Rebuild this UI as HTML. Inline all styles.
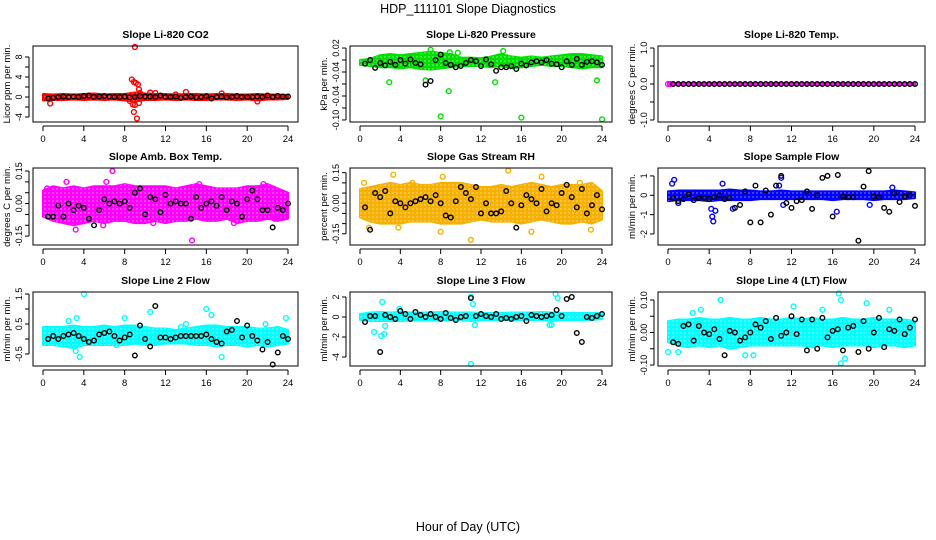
<!DOCTYPE html>
<html><head><meta charset="utf-8">
<style>
html,body{margin:0;padding:0;background:#fff;}
svg{display:block;font-family:"Liberation Sans",Arial,sans-serif;}
</style></head>
<body>
<svg id="chart" width="936" height="540" viewBox="0 0 936 540">
<defs>
<pattern id="speck" width="4" height="4" patternUnits="userSpaceOnUse"><rect width="4" height="4" fill="#fff" opacity="0"/><circle cx="1" cy="1" r="0.7" fill="#fff"/></pattern>
</defs>
<text x="468" y="13" text-anchor="middle" font-size="12.5">HDP_111101  Slope Diagnostics</text>
<text x="468" y="531" text-anchor="middle" font-size="12.5">Hour of Day (UTC)</text>
</svg>
<script>
const blackHours=[0.5,1,1.5,2,2.5,3,3.5,4,4.5,5,5.5,6,6.5,7,7.5,8,8.5,9,9.5,10,10.5,11,11.5,12,12.5,13,13.5,14,14.5,15,15.5,16,16.5,17,17.5,18,18.5,19,19.5,20,20.5,21,21.5,22,22.5,23,23.5,24];
const bandHours=[0,1,2,3,4,5,6,7,8,9,10,11,12,13,14,15,16,17,18,19,20,21,22,23,24];
const xTicks=[0,4,8,12,16,20,24];

const p1Lo=[-0.7,-0.6,-0.6,-0.5,-0.6,-0.5,-0.6,-0.5,-0.7,-0.9,-0.6,-0.6,-0.5,-0.6,-0.5,-0.6,-0.6,-0.5,-0.5,-0.6,-0.5,-0.7,-0.5,-0.5,-0.4];
const p1Hi=[0.6,0.5,0.6,0.5,0.6,0.7,0.5,0.6,0.6,0.9,0.7,0.6,0.6,0.5,0.6,0.6,0.5,0.6,0.6,0.5,0.5,0.6,0.5,0.5,0.4];
const p1OutX=[9.0,8.7,8.9,9.1,9.3,9.4,9.5,8.8,9.0,8.9,9.2,9.4,0.7,14,10.5,17.5,13,21,8.5,11];
const p1OutY=[10,3.5,3.0,2.8,2.5,1.5,0.8,-1.5,-1.6,-3.0,-4.3,-1.2,-1.3,1,0.9,0.7,0.5,-0.9,-0.8,0.8];
const p1Black=[-0.3,-0.2,0,0.1,0,0.1,0,0.2,0.3,0,0.1,0.2,0.1,0,0,0.1,-0.1,0,0.2,0.1,0.1,0,0.3,0,0,0.1,-0.2,0,0.1,-0.1,0,0.2,-0.3,0,0.1,-0.1,0,0.2,0,0,0,0.1,0,0.3,0,0.2,0.1,0.1];

const p2Lo=[-0.008,-0.01,-0.012,-0.012,-0.014,-0.012,-0.015,-0.016,-0.014,-0.012,-0.01,-0.01,-0.01,-0.012,-0.01,-0.014,-0.012,-0.01,-0.008,-0.01,-0.01,-0.012,-0.014,-0.012,-0.012];
const p2Hi=[0,0.002,0.008,0.01,0.008,0.01,0.012,0.014,0.012,0.01,0.004,0.004,0.003,0.006,0.01,0.006,0.004,0.006,0.004,0.006,0.008,0.01,0.01,0.008,0.006];
const p2OutX=[8,16,24,8.8,2.9,13.4,7,14.2,23.5,6.5,9.7,8.9];
const p2OutY=[-0.094,-0.096,-0.099,-0.052,-0.037,-0.037,0.017,0.015,-0.034,-0.034,0.012,0.013];
const p2Black=[-0.006,0,-0.013,-0.005,-0.009,-0.003,-0.008,0,-0.006,0.001,-0.005,-0.007,-0.041,-0.035,0.0,0.009,-0.005,-0.008,-0.012,-0.01,-0.005,0,-0.002,-0.01,0.001,-0.007,-0.018,-0.012,-0.012,-0.01,-0.015,-0.006,-0.009,-0.004,-0.002,-0.004,0.0,-0.006,-0.007,-0.012,-0.002,-0.008,0.002,-0.008,-0.003,-0.002,-0.004,-0.008];

const p3Lo=[-0.02,-0.02,-0.02,-0.02,-0.02,-0.02,-0.02,-0.02,-0.02,-0.02,-0.02,-0.02,-0.02,-0.02,-0.02,-0.02,-0.02,-0.02,-0.02,-0.02,-0.02,-0.02,-0.02,-0.02,-0.02];
const p3Hi=[0.02,0.02,0.02,0.02,0.02,0.02,0.02,0.02,0.02,0.02,0.02,0.02,0.02,0.02,0.02,0.02,0.02,0.02,0.02,0.02,0.02,0.02,0.02,0.02,0.02];
const p3OutX=[0,0.2];
const p3OutY=[0,0];
const p3Black=[0,0,0,0,0,0,0,0,0,0,0,0,0,0,0,0,0,0,0,0,0,0,0,0,0,0,0,0,0,0,0,0,0,0,0,0,0,0,0,0,0,0,0,0,0,0,0,0];

const p4Lo=[-0.06,-0.08,-0.09,-0.1,-0.09,-0.08,-0.09,-0.08,-0.08,-0.09,-0.09,-0.08,-0.09,-0.08,-0.08,-0.07,-0.08,-0.08,-0.07,-0.09,-0.08,-0.08,-0.07,-0.08,-0.07];
const p4Hi=[0.06,0.08,0.07,0.08,0.07,0.08,0.08,0.08,0.09,0.08,0.08,0.08,0.08,0.07,0.08,0.09,0.08,0.07,0.07,0.07,0.08,0.08,0.09,0.07,0.05];
const p4OutX=[6.8,2.3,14.6,6.2,5.9,10.8,18.7,15.3,21.6,22.7,0.4,3.2,7.5];
const p4OutY=[0.15,0.1,-0.17,0.1,-0.1,-0.09,-0.09,0.09,0.09,-0.07,0.07,-0.12,-0.07];
const p4Black=[-0.06,-0.06,-0.01,-0.06,0.0,-0.03,-0.01,-0.02,-0.07,-0.1,-0.03,0.02,0.0,0.01,0.0,0.01,-0.02,0.05,0.07,-0.05,0.03,0.02,-0.04,0.04,0.0,0.01,0.0,0.0,-0.07,0.03,-0.02,0.0,0.01,-0.01,0.03,-0.03,0.01,0.0,-0.06,0.02,0.06,0.02,-0.03,-0.03,-0.11,-0.02,-0.03,0.0];

const p5Lo=[-0.07,-0.09,-0.1,-0.1,-0.1,-0.09,-0.09,-0.09,-0.1,-0.1,-0.1,-0.09,-0.08,-0.09,-0.09,-0.09,-0.1,-0.09,-0.08,-0.09,-0.1,-0.1,-0.09,-0.1,-0.08];
const p5Hi=[0.07,0.08,0.09,0.1,0.09,0.1,0.09,0.09,0.1,0.1,0.1,0.09,0.08,0.08,0.09,0.08,0.09,0.1,0.09,0.08,0.09,0.09,0.09,0.1,0.06];
const p5OutX=[14.7,11,8,3.3,8.2,22.9,17,0.4,5.2,21.8,18,0.9,3.8];
const p5OutY=[0.16,-0.18,-0.14,0.14,0.13,-0.13,-0.14,0.1,0.1,0.1,0.13,-0.12,-0.12];
const p5Black=[-0.02,-0.13,0.05,0.03,0.06,-0.05,0.01,0.0,-0.02,0.0,0.01,0.02,0.03,0.01,0.04,0.0,-0.06,-0.07,0.01,0.08,0.05,0.02,0.08,-0.05,0.0,-0.05,-0.05,-0.04,0.06,0.0,-0.12,-0.01,0.04,0.02,0.0,0.07,-0.04,0.0,-0.01,0.05,0.09,0.03,-0.02,0.07,-0.05,-0.01,0.04,-0.03];

const p6Lo=[-0.3,-0.25,-0.25,-0.25,-0.3,-0.25,-0.25,-0.25,-0.25,-0.2,-0.2,-0.2,-0.2,-0.2,-0.2,-0.2,-0.25,-0.2,-0.2,-0.2,-0.25,-0.2,-0.2,-0.2,-0.15];
const p6Hi=[0.2,0.25,0.25,0.25,0.25,0.25,0.3,0.25,0.25,0.2,0.2,0.25,0.2,0.2,0.2,0.2,0.2,0.2,0.2,0.2,0.2,0.2,0.25,0.2,0.15];
const p6OutX=[0.4,0.6,4.2,4.3,4.4,4.6,5.3,6.3,11,10.8,11.2,16.4,19.6,21.8,1];
const p6OutY=[0.6,0.8,-0.7,-1.1,-1.35,-0.8,0.6,-0.7,0.9,0.5,-0.5,-0.85,-0.5,0.4,-0.4];
const p6Black=[-0.15,-0.3,-0.2,0.05,-0.25,-0.15,-0.15,-0.2,-0.1,0.0,-0.2,-0.15,-0.65,-0.5,0.2,-1.4,0.5,-1.4,0.25,-1.0,0.5,1.0,-0.4,-0.65,-0.3,-0.25,0.2,-0.7,0.0,0.9,1.0,-1.1,1.05,-0.05,-0.1,-0.1,-2.35,0.45,1.25,-0.05,-0.1,-0.65,-0.85,0.1,-0.35,-0.05,0.0,-0.55];

const p7Lo=[-0.2,-0.2,-0.25,-0.3,-0.2,-0.2,-0.2,-0.2,-0.2,-0.15,-0.2,-0.2,-0.15,-0.15,-0.15,-0.2,-0.2,-0.25,-0.2,-0.2,-0.25,-0.2,-0.25,-0.2,-0.15];
const p7Hi=[0.4,0.4,0.4,0.45,0.4,0.4,0.45,0.4,0.45,0.45,0.4,0.35,0.35,0.3,0.35,0.4,0.45,0.45,0.4,0.4,0.4,0.35,0.35,0.4,0.3];
const p7OutX=[4,3.3,3.6,2.5,10.5,16,16.5,13.5,17.5,8,3.2,23.8,21.8,7.2,14];
const p7OutY=[1.5,0.7,-0.6,0.6,0.9,1.0,0.8,0.4,-0.6,0.7,-0.4,0.7,0.5,-0.2,0.5];
const p7Black=[0.0,0.1,0.0,0.1,0.15,0.2,0.1,0.0,-0.1,-0.05,0.15,0.2,0.25,0.1,-0.05,0.05,0.15,-0.55,0.45,0.0,-0.25,1.1,0.05,0.05,0.0,0.05,0.1,0.1,0.1,0.1,0.1,0.15,0.0,-0.1,-0.15,0.25,0.3,0.6,0.05,0.45,0.1,-0.05,-0.35,-0.1,-0.85,-0.45,0.1,0.0];

const p8Lo=[-0.3,-0.4,-0.4,-0.4,-0.4,-0.35,-0.35,-0.35,-0.35,-0.35,-0.3,-0.4,-0.3,-0.3,-0.3,-0.3,-0.3,-0.3,-0.3,-0.4,-0.3,-0.3,-0.3,-0.3,-0.2];
const p8Hi=[0.3,0.45,0.5,0.45,0.5,0.45,0.45,0.45,0.5,0.45,0.45,0.45,0.4,0.4,0.4,0.45,0.45,0.45,0.5,0.45,0.4,0.4,0.4,0.4,0.4];
const p8OutX=[2.2,2.1,2.4,2.5,1.4,11,11.2,11.4,19.4,19.6,18.8,19,11,3.9];
const p8OutY=[1.5,-1.9,-1.7,-0.9,-1.5,-4.7,1.3,-0.8,2.3,1.9,-0.8,-0.8,2.0,0.8];
const p8Black=[-0.5,0.1,0.1,-3.5,0.2,0.0,-0.2,0.6,0.3,-0.2,0.5,0.2,0.0,0.3,0.0,-0.2,0.4,-0.1,-0.3,0.0,0.1,1.9,0.1,0.3,0.1,0.0,0.3,-0.2,-0.1,-0.2,0.0,0.1,-0.4,0.2,0.1,0.0,0.1,0.2,0.7,0.1,1.8,2.0,-1.6,-2.5,0.0,-0.1,0.1,0.3];

const p9Lo=[-0.03,-0.04,-0.045,-0.04,-0.045,-0.04,-0.05,-0.045,-0.04,-0.04,-0.04,-0.04,-0.04,-0.04,-0.045,-0.04,-0.045,-0.04,-0.04,-0.04,-0.045,-0.04,-0.04,-0.045,-0.04];
const p9Hi=[0.035,0.04,0.04,0.045,0.04,0.04,0.045,0.04,0.04,0.045,0.04,0.04,0.045,0.04,0.045,0.04,0.04,0.045,0.04,0.04,0.045,0.04,0.04,0.04,0.035];
const p9OutX=[16.6,16.8,16.8,5.1,19.3,3.2,2.4,12.2,8.3,7.5,0,15,21.5,1,17.2];
const p9OutY=[0.12,0.1,-0.095,0.1,0.09,0.07,0.06,0.08,-0.07,-0.07,-0.06,0.07,0.07,-0.06,-0.08];
const p9Black=[-0.03,-0.035,0.02,0.025,-0.025,0.02,0.0,-0.005,0.01,-0.02,-0.07,0.005,0.0,-0.025,-0.015,0.0,0.025,0.015,0.035,-0.02,0.045,-0.01,0.0,0.05,-0.005,0.04,-0.055,0.04,-0.05,0.045,-0.015,0.005,0.01,-0.055,0.015,0.02,-0.06,0.035,-0.05,0.0,0.045,-0.045,0.01,0.005,0.04,-0.005,0.015,0.04];

const p1YTicks=[-4,-2,0,2,4,6,8], p1YLabels=["-4","","0","","4","","8"];
const p2YTicks=[0.02,0,-0.02,-0.04,-0.06,-0.08,-0.1], p2YLabels=["0.02","","-0.04","","-0.04","","-0.10"];
const p3YTicks=[1,0.5,0,-0.5,-1], p3YLabels=["1.0","","0.0","","-1.0"];
const p4YTicks=[0.15,0.1,0.05,0,-0.05,-0.1,-0.15], p4YLabels=["0.15","","","0.00","","","-0.15"];
const p5YTicks=[0.15,0.1,0.05,0,-0.05,-0.1,-0.15], p5YLabels=["0.15","","","0.00","","","-0.15"];
const p6YTicks=[1,0,-1,-2], p6YLabels=["1","0","-1","-2"];
const p7YTicks=[1.5,1,0.5,0,-0.5], p7YLabels=["1.5","","0.5","","-0.5"];
const p8YTicks=[2,0,-2,-4], p8YLabels=["2","0","-2","-4"];
const p9YTicks=[0.1,0.05,0,-0.05,-0.1], p9YLabels=["0.10","","0.00","","-0.10"];

const NS="http://www.w3.org/2000/svg";
const svg=document.getElementById('chart');
function mk(tag,attrs,parent){const e=document.createElementNS(NS,tag);for(const k in attrs)e.setAttribute(k,attrs[k]);(parent||svg).appendChild(e);return e;}

const colL=[33,350,658], colR=[298,612,925];
const rowT=[46,168,292], rowB=[122,245,366];
const panels=[
 {t:"Slope Li-820 CO2",yl:"Licor ppm per min.",c:0,r:0,ymin:-5.0,ymax:10.2,col:"#ff0000",lo:p1Lo,hi:p1Hi,ox:p1OutX,oy:p1OutY,bk:p1Black,yt:p1YTicks,ylab:p1YLabels,name:"co2"},
 {t:"Slope Li-820 Pressure",yl:"kPa per min.",c:1,r:0,ymin:-0.1034,ymax:0.0234,col:"#00e000",lo:p2Lo,hi:p2Hi,ox:p2OutX,oy:p2OutY,bk:p2Black,yt:p2YTicks,ylab:p2YLabels,name:"pressure"},
 {t:"Slope Li-820 Temp.",yl:"degrees C per min.",c:2,r:0,ymin:-1.056,ymax:1.056,col:"#ff00ff",lo:p3Lo,hi:p3Hi,ox:p3OutX,oy:p3OutY,bk:p3Black,yt:p3YTicks,ylab:p3YLabels,name:"li820-temp"},
 {t:"Slope Amb. Box Temp.",yl:"degrees C per min.",c:0,r:1,ymin:-0.191,ymax:0.164,col:"#ff00ff",lo:p4Lo,hi:p4Hi,ox:p4OutX,oy:p4OutY,bk:p4Black,yt:p4YTicks,ylab:p4YLabels,name:"box-temp"},
 {t:"Slope Gas Stream RH",yl:"percent per min.",c:1,r:1,ymin:-0.205,ymax:0.173,col:"#f5b000",lo:p5Lo,hi:p5Hi,ox:p5OutX,oy:p5OutY,bk:p5Black,yt:p5YTicks,ylab:p5YLabels,name:"gas-rh"},
 {t:"Slope Sample Flow",yl:"ml/min per min.",c:2,r:1,ymin:-2.57,ymax:1.41,col:"#0000ff",lo:p6Lo,hi:p6Hi,ox:p6OutX,oy:p6OutY,bk:p6Black,yt:p6YTicks,ylab:p6YLabels,name:"sample-flow"},
 {t:"Slope Line 2 Flow",yl:"ml/min per min.",c:0,r:2,ymin:-0.9,ymax:1.567,col:"#00ffff",lo:p7Lo,hi:p7Hi,ox:p7OutX,oy:p7OutY,bk:p7Black,yt:p7YTicks,ylab:p7YLabels,name:"line2-flow"},
 {t:"Slope Line 3 Flow",yl:"ml/min per min.",c:1,r:2,ymin:-4.9,ymax:2.5,col:"#00ffff",lo:p8Lo,hi:p8Hi,ox:p8OutX,oy:p8OutY,bk:p8Black,yt:p8YTicks,ylab:p8YLabels,name:"line3-flow"},
 {t:"Slope Line 4 (LT) Flow",yl:"ml/min per min.",c:2,r:2,ymin:-0.103,ymax:0.1246,col:"#00ffff",lo:p9Lo,hi:p9Hi,ox:p9OutX,oy:p9OutY,bk:p9Black,yt:p9YTicks,ylab:p9YLabels,name:"line4-flow"}
];

panels.forEach(p=>{
  const L=colL[p.c],R=colR[p.c],T=rowT[p.r],B=rowB[p.r];
  const x0=L+10,x1=R-10;
  const xs=h=>x0+(x1-x0)*h/24;
  const ys=v=>B-(v-p.ymin)/(p.ymax-p.ymin)*(B-T);
  const g=mk('g',{});
  
  
  const title=mk('text',{x:(L+R)/2,y:T-8,'text-anchor':'middle','font-size':10.5,'font-weight':'bold'},g);
  title.textContent=p.t;
  
  
  const clip=mk('g',{},g);
  let pts=[];
  p.lo.forEach((v,i)=>pts.push(xs(bandHours[i])+','+ys(p.hi[i])));
  for(let i=p.lo.length-1;i>=0;i--)pts.push(xs(bandHours[i])+','+ys(p.lo[i]));
  const band=mk('polygon',{points:pts.join(' '),fill:p.col,stroke:p.col,'stroke-width':2,'stroke-linejoin':'round'},clip);
  
  
  const sp=mk('polygon',{points:pts.join(' '),fill:'url(#speck)',opacity:0.6},clip);
  
  
  p.ox.forEach((h,i)=>{
    const c=mk('circle',{cx:xs(h),cy:ys(p.oy[i]),r:2.4,fill:'none',stroke:p.col,'stroke-width':1.4},clip);
    
    
  });
  p.bk.forEach((v,i)=>{
    const c=mk('circle',{cx:xs(blackHours[i]),cy:ys(v),r:2.3,fill:'none',stroke:'#000','stroke-width':1.4},clip);
    
    
  });
  const box=mk('rect',{x:L,y:T,width:R-L,height:B-T,fill:'none',stroke:'#000','stroke-width':1},g);
  
  
  const xa=mk('g',{},g);
  
  
  mk('line',{x1:xs(0),x2:xs(24),y1:B+4,y2:B+4,stroke:'#000'},xa);
  xTicks.forEach(t=>{
    mk('line',{x1:xs(t),x2:xs(t),y1:B+4,y2:B+9,stroke:'#000'},xa);
    const tx=mk('text',{x:xs(t),y:B+20,'text-anchor':'middle','font-size':9.5},xa);
    tx.textContent=String(t);
  });
  const ya=mk('g',{},g);
  
  
  mk('line',{x1:L-4,x2:L-4,y1:ys(p.yt[0]),y2:ys(p.yt[p.yt.length-1]),stroke:'#000'},ya);
  p.yt.forEach((t,i)=>{
    mk('line',{x1:L-4,x2:L-8,y1:ys(t),y2:ys(t),stroke:'#000'},ya);
    if(p.ylab[i]){
      const tx=mk('text',{x:0,y:0,'text-anchor':'middle','font-size':9,transform:`translate(${L-11},${ys(t)}) rotate(-90)`},ya);
      tx.textContent=p.ylab[i];
    }
  });
  const yt=mk('text',{x:0,y:0,'text-anchor':'middle','font-size':9.5,transform:`translate(${L-23},${(T+B)/2}) rotate(-90)`},g);
  yt.textContent=p.yl;
  
  
});
</script>
</body></html>
